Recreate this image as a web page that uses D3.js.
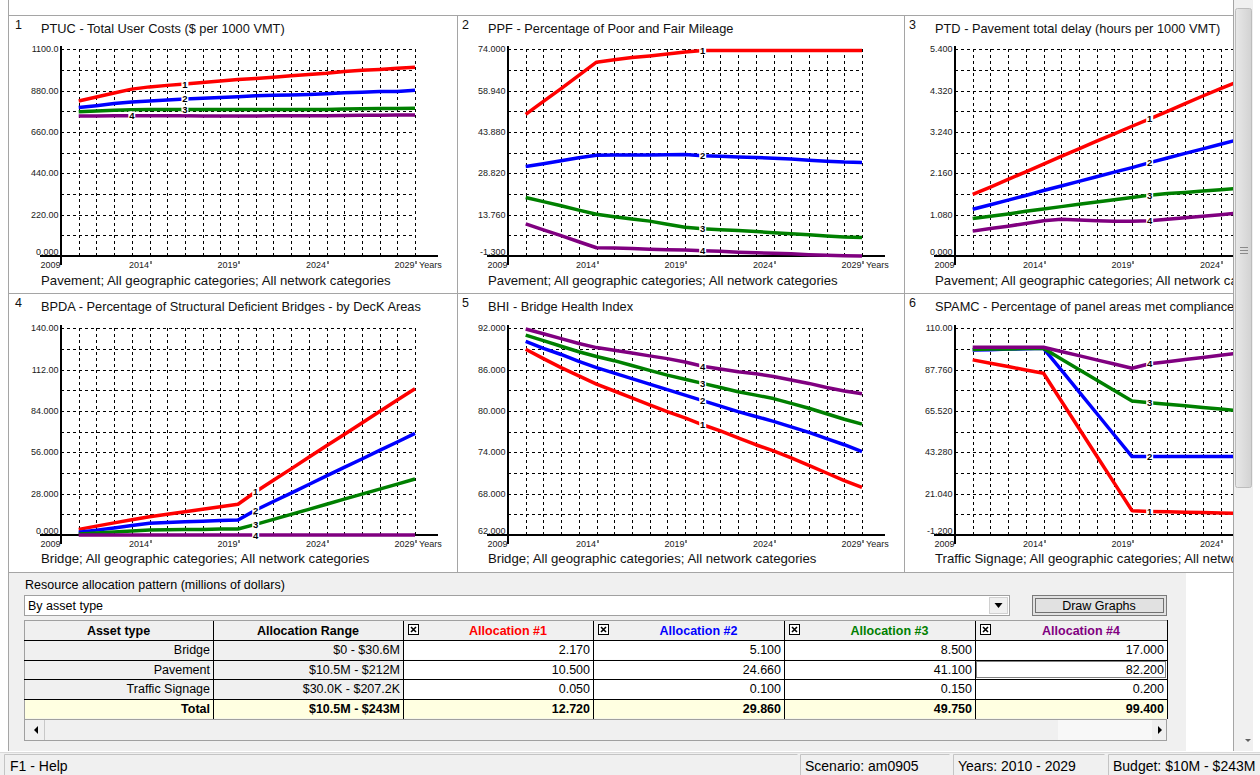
<!DOCTYPE html>
<html lang="en">
<head>
<meta charset="UTF-8">
<title>Resource allocation graphs</title>
<script src="https://d3js.org/d3.v7.min.js"></script>
<style>
  body { margin: 0; background: #fff; font-family: "Liberation Sans", Arial, sans-serif; }
  svg { display: block; }
  .grid { stroke: #000; stroke-width: 1; stroke-dasharray: 3,3; shape-rendering: crispEdges; }
  .axis { stroke: #000; stroke-width: 2; shape-rendering: crispEdges; }
  .tick { font-size: 9px; fill: #1a1a1a; }
  .title { font-size: 12.8px; fill: #111; }
  .subtitle { font-size: 13.2px; fill: #111; }
  .ui { font-size: 12.5px; fill: #000; }
  .sep { stroke: #a5a5a5; stroke-width: 1; shape-rendering: crispEdges; }
</style>
</head>
<body>
<svg id="app" width="1260" height="775"></svg>
<script>
// ---- data -------------------------------------------------------------
var years = [2010, 2011, 2012, 2013, 2014, 2015, 2016, 2017, 2018, 2019,
             2020, 2021, 2022, 2023, 2024, 2025, 2026, 2027, 2028, 2029];
var yearLabels = [2009, 2014, 2019, 2024, 2029];

// each panel: allocation #1..#4
var ptuc = [
  [825, 846, 867, 888, 900, 908, 915, 923, 931, 939, 945, 951, 959, 966, 972, 982, 988, 993, 999, 1004],
  [790, 800, 811, 820, 825, 830, 836, 839, 843, 848, 853, 855, 857, 860, 864, 869, 871, 875, 876, 882],
  [768, 772, 775, 778, 779, 779, 779, 780, 780, 780, 780, 780, 780, 780, 780, 782, 784, 785, 785, 786],
  [745, 745, 746, 746, 746, 746, 746, 745, 745, 745, 745, 746, 746, 746, 747, 748, 749, 749, 750, 750]
];
var ppf = [
  [50.3, 55.0, 59.7, 64.5, 69.3, 70.2, 71.0, 71.6, 72.3, 73.0, 73.6, 73.6, 73.6, 73.6, 73.6, 73.6, 73.6, 73.6, 73.6, 73.6],
  [31.3, 32.3, 33.4, 34.5, 35.4, 35.5, 35.5, 35.5, 35.6, 35.7, 35.2, 35.0, 34.8, 34.6, 34.3, 34.0, 33.6, 33.2, 32.9, 32.8],
  [20.0, 18.5, 17.0, 15.4, 13.9, 13.0, 12.2, 11.4, 10.3, 9.2, 8.6, 8.3, 8.0, 7.6, 7.2, 6.8, 6.4, 6.0, 5.6, 5.4],
  [10.4, 8.2, 6.1, 3.9, 1.7, 1.6, 1.4, 1.2, 1.0, 0.9, 0.6, 0.4, 0.1, -0.1, -0.3, -0.5, -0.8, -1.0, -1.2, -1.3]
];
var ptd = [
  [1.61, 1.80, 2.00, 2.20, 2.40, 2.60, 2.80, 3.00, 3.19, 3.39, 3.58, 3.78, 3.98, 4.18, 4.37, 4.56, 4.75, 4.95, 5.14, 5.32],
  [1.22, 1.34, 1.46, 1.58, 1.71, 1.83, 1.95, 2.07, 2.19, 2.31, 2.44, 2.56, 2.68, 2.80, 2.92, 3.04, 3.16, 3.29, 3.41, 3.53],
  [0.98, 1.04, 1.10, 1.17, 1.23, 1.29, 1.35, 1.41, 1.47, 1.53, 1.59, 1.63, 1.66, 1.70, 1.73, 1.77, 1.80, 1.84, 1.87, 1.91],
  [0.65, 0.72, 0.78, 0.85, 0.92, 0.96, 0.94, 0.92, 0.91, 0.91, 0.92, 0.96, 1.00, 1.04, 1.08, 1.12, 1.16, 1.20, 1.24, 1.28]
];
var bpda = [
  [3.8, 6.0, 8.2, 10.3, 12.4, 14.1, 15.8, 17.4, 19.1, 20.8, 29.3, 37.1, 44.8, 52.6, 60.4, 68.1, 75.9, 83.6, 91.4, 99.1],
  [1.8, 3.3, 4.8, 6.4, 7.9, 8.4, 8.9, 9.3, 9.8, 10.2, 16.9, 22.7, 28.4, 34.2, 40.0, 45.8, 51.5, 57.3, 63.0, 68.8],
  [0.7, 1.4, 2.0, 2.7, 3.4, 3.5, 3.7, 3.8, 4.0, 4.1, 7.2, 10.6, 14.0, 17.4, 20.8, 24.3, 27.7, 31.1, 34.5, 37.9],
  [0, 0, 0, 0, 0, 0, 0, 0, 0, 0, 0, 0, 0, 0, 0, 0, 0, 0, 0, 0]
];
var bhi = [
  [88.95, 87.6, 86.3, 85.1, 83.9, 82.9, 81.9, 80.9, 79.9, 79.0, 78.0, 77.1, 76.1, 75.1, 74.2, 73.2, 72.1, 71.0, 69.9, 68.9],
  [90.1, 89.1, 88.2, 87.2, 86.3, 85.5, 84.7, 83.9, 83.1, 82.3, 81.5, 80.7, 79.9, 79.2, 78.5, 77.7, 76.9, 76.0, 75.1, 74.1],
  [91.0, 90.2, 89.4, 88.6, 87.9, 87.3, 86.6, 85.9, 85.2, 84.6, 84.0, 83.4, 82.8, 82.3, 81.8, 81.1, 80.4, 79.6, 78.8, 78.1],
  [91.9, 91.2, 90.5, 89.8, 89.2, 88.8, 88.4, 88.0, 87.6, 87.1, 86.5, 86.1, 85.7, 85.4, 85.0, 84.5, 84.0, 83.4, 82.9, 82.5]
];
var spamc = [
  [93.0, 91.2, 89.4, 87.6, 85.8, 71.0, 56.2, 41.4, 26.7, 11.9, 11.5, 11.3, 11.1, 10.9, 10.7, 10.5, 10.3, 10.2, 10.0, 9.9],
  [98.3, 98.5, 98.8, 99.0, 99.2, 87.6, 75.9, 64.3, 52.6, 41.0, 41.0, 41.0, 41.0, 41.0, 41.0, 41.0, 41.0, 41.0, 41.0, 41.0],
  [98.6, 98.8, 98.9, 99.1, 99.2, 93.5, 87.8, 82.2, 76.5, 70.9, 70.0, 69.1, 68.3, 67.4, 66.6, 65.7, 64.9, 64.0, 63.2, 62.3],
  [99.8, 99.8, 99.8, 99.8, 99.8, 97.5, 95.3, 93.0, 90.8, 88.5, 90.9, 92.0, 93.2, 94.3, 95.5, 96.6, 97.7, 98.8, 99.9, 101.0]
];

var titles = [
  "PTUC - Total User Costs ($ per 1000 VMT)",
  "PPF - Percentage of Poor and Fair Mileage",
  "PTD - Pavement total delay (hours per 1000 VMT)",
  "BPDA - Percentage of Structural Deficient Bridges - by DecK Areas",
  "BHI - Bridge Health Index",
  "SPAMC - Percentage of panel areas met compliance"
];
var subtitles = [
  "Pavement; All geographic categories; All network categories",
  "Pavement; All geographic categories; All network categories",
  "Pavement; All geographic categories; All network categories",
  "Bridge; All geographic categories; All network categories",
  "Bridge; All geographic categories; All network categories",
  "Traffic Signage; All geographic categories; All network categories"
];
var yMin = [0, -1.3, 0, 0, 62, -1.2];
var yMax = [1100, 74, 5.4, 140, 92, 110];
// year at which the series number is written
var markYear = [
  [2016, 2016, 2016, 2013],
  [2020, 2020, 2020, 2020],
  [2020, 2020, 2020, 2020],
  [2020, 2020, 2020, 2020],
  [2020, 2020, 2020, 2020],
  [2020, 2020, 2020, 2020]
];

var assetTypes = ["Bridge", "Pavement", "Traffic Signage"];
var allocRanges = ["$0 - $30.6M", "$10.5M - $212M", "$30.0K - $207.2K"];
var totalRange = "$10.5M - $243M";
var alloc1 = [2.170, 10.500, 0.050];
var alloc2 = [5.100, 24.660, 0.100];
var alloc3 = [8.500, 41.100, 0.150];
var alloc4 = [17.000, 82.200, 0.200];

// ---- layout -----------------------------------------------------------
var colors = ["#ff0000", "#0000ff", "#008000", "#800080"];
var panelData = [ptuc, ppf, ptd, bpda, bhi, spamc];
var panelLeft = [10, 457, 904];
var panelTop = [15, 293];
var axisX = [61, 508, 955];
var plotTop = [49.3, 328.3];
var plotW = 354, plotH = 206.7;
var rightEdge = 1233;

var svg = d3.select("#app");
var defs = svg.append("defs");

function fmt(v) {
  var a = Math.abs(v);
  if (a >= 1000) return v.toFixed(1);
  if (a >= 100) return v.toFixed(2);
  return v.toFixed(3);
}

// panel frame lines
svg.append("line").attr("class", "sep").attr("x1", 8.5).attr("x2", 8.5).attr("y1", 0).attr("y2", 751);
[15, 293, 572].forEach(function (yy) {
  svg.append("line").attr("class", "sep").attr("x1", 8).attr("x2", rightEdge).attr("y1", yy + 0.5).attr("y2", yy + 0.5);
});
[457, 904].forEach(function (xx) {
  svg.append("line").attr("class", "sep").attr("x1", xx + 0.5).attr("x2", xx + 0.5).attr("y1", 15).attr("y2", 572);
});

panelData.forEach(function (series, k) {
  var col = k % 3, row = Math.floor(k / 3);
  var px = panelLeft[col], py = panelTop[row];
  var clipW = (col === 2 ? rightEdge : px + 447) - px;

  defs.append("clipPath").attr("id", "clip" + k)
    .append("rect").attr("x", px + 1).attr("y", py + 1).attr("width", clipW - 1).attr("height", 277);

  var g = svg.append("g").attr("clip-path", "url(#clip" + k + ")");

  var x = d3.scaleLinear().domain([2009, 2029]).range([axisX[col], axisX[col] + plotW]);
  var y = d3.scaleLinear().domain([yMin[k], yMax[k]]).range([plotTop[row] + plotH, plotTop[row]]);
  var ticks = d3.range(11).map(function (i) { return yMin[k] + (yMax[k] - yMin[k]) * i / 10; });

  g.append("text").attr("x", px + 5).attr("y", py + 14).attr("font-size", 12.5).attr("fill", "#111").text(k + 1);
  g.append("text").attr("class", "title").attr("x", px + 31).attr("y", py + 18).text(titles[k]);
  g.append("text").attr("class", "subtitle").attr("x", px + 31).attr("y", py + 270).text(subtitles[k]);

  // grid
  g.selectAll(".vgrid").data(years).enter().append("line")
    .attr("class", "grid")
    .attr("x1", function (d) { return Math.round(x(d)) + 0.5; })
    .attr("x2", function (d) { return Math.round(x(d)) + 0.5; })
    .attr("y1", y(yMax[k])).attr("y2", y(yMin[k]));
  g.selectAll(".hgrid").data(ticks.slice(1)).enter().append("line")
    .attr("class", "grid")
    .attr("x1", x(2009)).attr("x2", x(2029))
    .attr("y1", function (d) { return Math.round(y(d)) + 0.5; })
    .attr("y2", function (d) { return Math.round(y(d)) + 0.5; });

  // y labels on every second grid line
  g.selectAll(".ylab").data(ticks.filter(function (d, i) { return i % 2 === 0; })).enter().append("text")
    .attr("class", "tick")
    .attr("text-anchor", "end")
    .attr("x", x(2009) - 2.5)
    .attr("y", function (d, i) { return y(d) + (i === 0 ? -1 : 3); })
    .text(fmt);

  // axes
  g.append("line").attr("class", "axis")
    .attr("x1", x(2009) - 21).attr("x2", x(2029) + 23)
    .attr("y1", y(yMin[k])).attr("y2", y(yMin[k]));
  g.append("line").attr("class", "axis")
    .attr("x1", x(2009)).attr("x2", x(2009))
    .attr("y1", y(yMax[k]) - 3).attr("y2", y(yMin[k]) + 9);

  // year labels
  g.selectAll(".xlab").data(yearLabels).enter().append("text")
    .attr("class", "tick").attr("text-anchor", "end")
    .attr("x", function (d) { return x(d) - 0.5; })
    .attr("y", y(yMin[k]) + 12)
    .text(function (d) { return d; });
  g.selectAll(".xmark").data(yearLabels.slice(1)).enter().append("line")
    .attr("stroke", "#000").attr("stroke-width", 1)
    .attr("x1", function (d) { return Math.round(x(d)) + 1; })
    .attr("x2", function (d) { return Math.round(x(d)) + 1; })
    .attr("y1", y(yMin[k]) + 5).attr("y2", y(yMin[k]) + 8);
  g.append("text").attr("class", "tick").attr("x", x(2029) + 4).attr("y", y(yMin[k]) + 12).text("Years");

  // series
  var line = d3.line()
    .x(function (d, i) { return x(years[i]); })
    .y(function (d) { return y(d); });
  g.selectAll(".series").data(series).enter().append("path")
    .attr("fill", "none")
    .attr("stroke", function (d, i) { return colors[i]; })
    .attr("stroke-width", 3.5)
    .attr("stroke-linejoin", "round")
    .attr("d", line);

  // series numbers
  series.forEach(function (s, i) {
    var yr = markYear[k][i];
    var cx = x(yr), cy = y(s[years.indexOf(yr)]);
    g.append("rect").attr("x", cx - 3.5).attr("y", cy - 4.5).attr("width", 7).attr("height", 9).attr("fill", "#fff");
    g.append("text").attr("x", cx).attr("y", cy + 3.5).attr("text-anchor", "middle")
      .attr("font-size", 9.5).attr("font-weight", "bold").attr("fill", "#000").text(i + 1);
  });
});

// ---- vertical scroll bar ---------------------------------------------
svg.append("rect").attr("x", 1233).attr("y", 0).attr("width", 20).attr("height", 751).attr("fill", "#f0f0f0");
svg.append("line").attr("class", "sep").attr("x1", 1233.5).attr("x2", 1233.5).attr("y1", 0).attr("y2", 751);
var grad = defs.append("linearGradient").attr("id", "thumb");
grad.append("stop").attr("offset", "0%").attr("stop-color", "#e8e8e8");
grad.append("stop").attr("offset", "100%").attr("stop-color", "#d2d2d2");
svg.append("rect").attr("x", 1235.5).attr("y", 8.5).attr("width", 16).attr("height", 479)
  .attr("rx", 2).attr("fill", "url(#thumb)").attr("stroke", "#bcbcbc");
[247, 250, 253].forEach(function (yy) {
  svg.append("line").attr("x1", 1240).attr("x2", 1248).attr("y1", yy + 0.5).attr("y2", yy + 0.5).attr("stroke", "#8a8a8a");
});
svg.append("path").attr("d", "M1245,739 L1251,739 L1248,742 Z").attr("fill", "#606060");

// ---- allocation panel -------------------------------------------------
svg.append("rect").attr("x", 9).attr("y", 573).attr("width", 1177).attr("height", 178).attr("fill", "#f0f0f0");
svg.append("text").attr("class", "ui").attr("x", 25).attr("y", 589).text("Resource allocation pattern (millions of dollars)");

svg.append("rect").attr("x", 24.5).attr("y", 595.5).attr("width", 985).attr("height", 20).attr("fill", "#fff").attr("stroke", "#a0a0a0");
svg.append("text").attr("class", "ui").attr("x", 28).attr("y", 610).text("By asset type");
svg.append("rect").attr("x", 989.5).attr("y", 597.5).attr("width", 18).attr("height", 16).attr("fill", "#f0f0f0").attr("stroke", "#d0d0d0");
svg.append("path").attr("d", "M994.5,603 L1002.5,603 L998.5,608 Z").attr("fill", "#000");

svg.append("rect").attr("x", 1032.5).attr("y", 595.5).attr("width", 134).attr("height", 20).attr("fill", "#e1e1e1").attr("stroke", "#7a7a7a");
svg.append("rect").attr("x", 1035.5).attr("y", 598.5).attr("width", 128).attr("height", 14).attr("fill", "none")
  .attr("stroke", "#000").attr("stroke-dasharray", "1,1");
svg.append("text").attr("class", "ui").attr("x", 1099).attr("y", 610).attr("text-anchor", "middle").text("Draw Graphs");

// table
var colEdges = [24, 213, 403, 593, 784, 975, 1167];
var rowEdges = [620, 640, 659.5, 679, 699, 718.5];
var headers = ["Asset type", "Allocation Range", "Allocation #1", "Allocation #2", "Allocation #3", "Allocation #4"];
var allocCols = [alloc1, alloc2, alloc3, alloc4];

var table = svg.append("g");
// header row
headers.forEach(function (h, c) {
  var x0 = colEdges[c], x1 = colEdges[c + 1];
  table.append("rect").attr("x", x0).attr("y", rowEdges[0]).attr("width", x1 - x0).attr("height", rowEdges[1] - rowEdges[0]).attr("fill", "#f0f0f0");
  var tx = c < 2 ? (x0 + x1) / 2 : (x0 + 20 + x1) / 2;
  table.append("text").attr("x", tx).attr("y", rowEdges[0] + 14.5).attr("text-anchor", "middle")
    .attr("font-size", 12.5).attr("font-weight", "bold").attr("fill", c < 2 ? "#000" : colors[c - 2]).text(h);
  if (c >= 2) {
    table.append("rect").attr("x", x0 + 5.5).attr("y", 624.5).attr("width", 10).attr("height", 10).attr("fill", "#fff").attr("stroke", "#000");
    table.append("path").attr("d", "M" + (x0 + 8) + ",627 L" + (x0 + 13) + ",632 M" + (x0 + 13) + ",627 L" + (x0 + 8) + ",632")
      .attr("stroke", "#000").attr("stroke-width", 1.6);
  }
});

// body rows
var rows = assetTypes.map(function (a, r) {
  return [a, allocRanges[r]].concat(allocCols.map(function (col) { return col[r].toFixed(3); }));
});
rows.push(["Total", totalRange].concat(allocCols.map(function (col) { return d3.sum(col).toFixed(3); })));

rows.forEach(function (cells, r) {
  var y0 = rowEdges[r + 1], y1 = rowEdges[r + 2];
  var isTotal = r === rows.length - 1;
  cells.forEach(function (v, c) {
    var x0 = colEdges[c], x1 = colEdges[c + 1];
    table.append("rect").attr("x", x0).attr("y", y0).attr("width", x1 - x0).attr("height", y1 - y0)
      .attr("fill", isTotal ? "#ffffe1" : (c < 2 ? "#f0f0f0" : "#fff"));
    table.append("text").attr("x", x1 - 3).attr("y", y0 + 14).attr("text-anchor", "end")
      .attr("font-size", 12.5).attr("font-weight", isTotal ? "bold" : "normal").attr("fill", "#000").text(v);
  });
});

// grid lines of the table
colEdges.forEach(function (xx) {
  table.append("line").attr("x1", xx + 0.5).attr("x2", xx + 0.5).attr("y1", rowEdges[0]).attr("y2", rowEdges[5])
    .attr("stroke", xx === 24 ? "#a0a0a0" : "#000").attr("shape-rendering", "crispEdges");
});
rowEdges.forEach(function (yy) {
  table.append("line").attr("x1", 24).attr("x2", 1167).attr("y1", Math.round(yy) + 0.5).attr("y2", Math.round(yy) + 0.5)
    .attr("stroke", yy === 620 ? "#a0a0a0" : "#000").attr("shape-rendering", "crispEdges");
});
// focus rectangle on Pavement / Allocation #4
table.append("rect").attr("x", 976.5).attr("y", 661.5).attr("width", 189).attr("height", 16)
  .attr("fill", "none").attr("stroke", "#000").attr("stroke-dasharray", "1,1");

// horizontal scroll bar of the table
svg.append("rect").attr("x", 24.5).attr("y", 719.5).attr("width", 1142).attr("height", 21).attr("fill", "#f0f0f0").attr("stroke", "#a0a0a0");
svg.append("rect").attr("x", 1058).attr("y", 720).attr("width", 94).attr("height", 20).attr("fill", "#f8f8f8");
svg.append("line").attr("x1", 44.5).attr("x2", 44.5).attr("y1", 720).attr("y2", 740).attr("stroke", "#c8c8c8");
svg.append("path").attr("d", "M34,730 L38,726 L38,734 Z").attr("fill", "#000");
svg.append("path").attr("d", "M1162,730 L1158,726 L1158,734 Z").attr("fill", "#000");

// ---- status bar -------------------------------------------------------
svg.append("rect").attr("x", 0).attr("y", 752).attr("width", 1260).attr("height", 23).attr("fill", "#f0f0f0");
svg.append("line").attr("x1", 0).attr("x2", 1260).attr("y1", 752.5).attr("y2", 752.5).attr("stroke", "#dadada");
var statusText = ["F1 - Help", "Scenario: am0905", "Years: 2010 - 2029", "Budget: $10M - $243M"];
[[4, 798], [800, 950], [953, 1105], [1108, 1262]].forEach(function (p, i) {
  svg.append("path").attr("d", "M" + (p[0] + 0.5) + ",775 V" + 754.5 + " H" + (p[1] - 0.5))
    .attr("fill", "none").attr("stroke", "#c4c4c4");
  svg.append("text").attr("x", p[0] + (i === 0 ? 6 : 5)).attr("y", 771).attr("font-size", 14).attr("fill", "#000").text(statusText[i]);
});
</script>
</body>
</html>
